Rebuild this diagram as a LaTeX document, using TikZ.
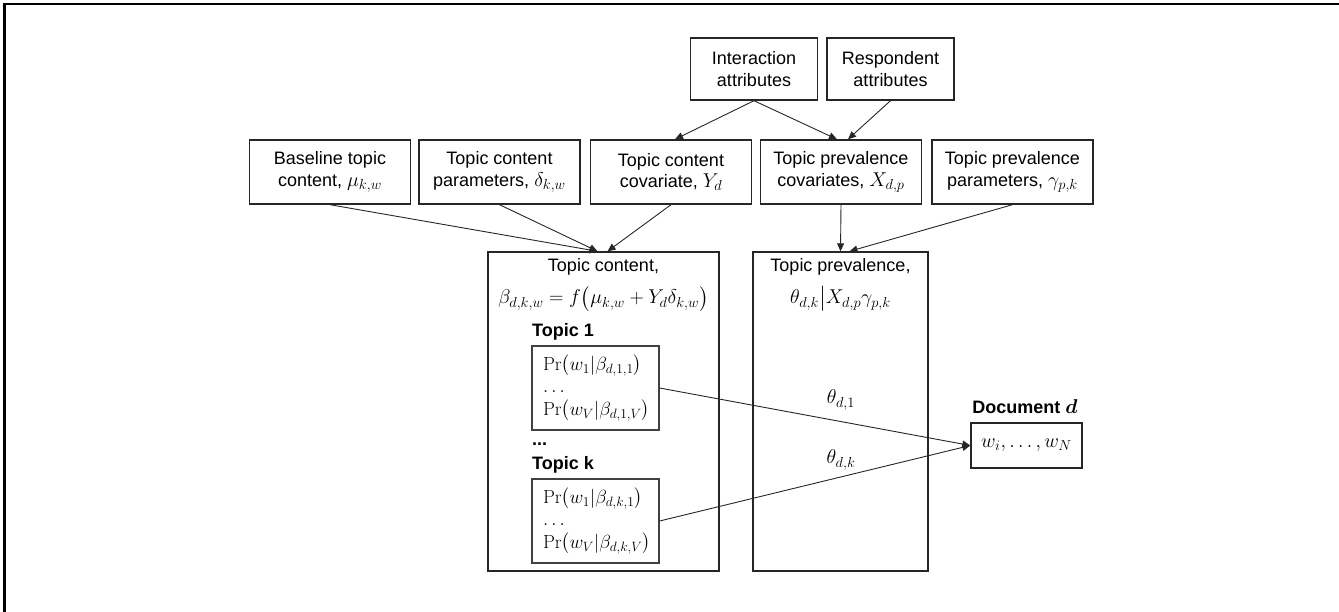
\RequirePackage{fix-cm}
\documentclass[tikz,border=0pt]{standalone}
\usepackage{amsmath}
\usepackage[no-math]{fontspec}
\setmainfont{Liberation Sans}
\DeclareMathSizes{18}{20}{14.5}{10.5}
\DeclareMathSizes{19}{19}{13.5}{10}
\usetikzlibrary{arrows.meta,calc}
\tikzset{
  box/.style={draw=black!85, line width=1.4pt, inner sep=0pt, align=center,
    font=\fontsize{18}{21.6}\selectfont},
  topbox/.style={box, minimum width=127pt, minimum height=62pt},
  rowbox/.style={box, minimum width=161pt, minimum height=64pt},
  bigbox/.style={box, minimum height=319pt},
  probbox/.style={draw=black!75, line width=1.2pt, minimum width=127pt, minimum height=84pt,
    inner xsep=11pt, inner ysep=0pt, text width=105pt, align=left,
    font=\fontsize{19}{22.5}\selectfont},
  lbl/.style={inner sep=0pt, font=\fontsize{18}{21.6}\selectfont},
  blbl/.style={inner sep=0pt, font=\fontsize{18}{21.6}\selectfont\bfseries},
  arr/.style={draw=black!85, line width=0.9pt, -{Triangle[length=8pt,width=7pt]}},
}
\begin{document}
\begin{tikzpicture}[x=1pt, y=-1pt]
\useasboundingbox (0,0) rectangle (1339,612);
% page frame (top and left edges)
\draw[line width=2.2pt] (4.5,612) -- (4.5,4) -- (1339,4);

% attribute boxes
\node[topbox] (ia) at (754,69) {Interaction\\attributes};
\node[topbox] (ra) at (890.5,69) {Respondent\\attributes};

% parameter / covariate row
\node[rowbox] (bl)  at (330,172)    {Baseline topic\\content, $\mu_{k,w}$};
\node[rowbox] (tcp) at (499.5,172)  {Topic content\\parameters, $\delta_{k,w}$};
\node[rowbox] (tcc) at (671,172)    {Topic content\\covariate, $Y_d$};
\node[rowbox] (tpc) at (841,172)    {Topic prevalence\\covariates, $X_{d,p}$};
\node[rowbox] (tpp) at (1012.5,172) {Topic prevalence\\parameters, $\gamma_{p,k}$};

% topic content and topic prevalence blocks
\node[bigbox, minimum width=231pt] (tc) at (603.5,411.5) {};
\node[bigbox, minimum width=175pt] (tp) at (840.5,411.5) {};

\node[lbl, anchor=base] (tct) at (603.5,272) {Topic content,};
\node[lbl, anchor=base] (tcf) at (603.5,304)
  {$\beta_{d,k,w} = f\bigl(\mu_{k,w} + Y_d\delta_{k,w}\bigr)$};
\node[lbl, anchor=base] (tpt) at (840.5,272) {Topic prevalence,};
\node[lbl, anchor=base] (tpf) at (840.5,304) {$\theta_{d,k}\big|X_{d,p}\gamma_{p,k}$};

% per-topic word distributions
\node[blbl, anchor=west] (l1) at (532,332) {Topic 1};
\node[probbox] (t1) at (595.5,388)
  {$\Pr\bigl(w_1|\beta_{d,1,1}\bigr)$\\$\ldots$\\$\Pr\bigl(w_V|\beta_{d,1,V}\bigr)$};
\node[blbl, anchor=west] (ld) at (532,444) {...};
\node[blbl, anchor=west] (lk) at (532,465) {Topic k};
\node[probbox] (tk) at (595.5,521)
  {$\Pr\bigl(w_1|\beta_{d,k,1}\bigr)$\\$\ldots$\\$\Pr\bigl(w_V|\beta_{d,k,V}\bigr)$};

% document
\node[blbl] (dl) at (1025,407) {Document $\boldsymbol{d}$};
\node[box, minimum width=111pt, minimum height=45pt] (doc) at (1026.5,445.5) {$w_i,\ldots, w_N$};

\node[lbl] (th1) at (841,400) {$\theta_{d,1}$};
\node[lbl] (thk) at (841,460) {$\theta_{d,k}$};

% connectors
\draw[arr] (ia.south) -- ($(tcc.north)+(4,0)$);
\draw[arr] (ia.south) -- ($(tpc.north)+(-4,0)$);
\draw[arr] (ra.south) -- ($(tpc.north)+(7,0)$);
\draw[arr] (bl.south) -- ($(tc.north)+(-6,0)$);
\draw[arr] (tcp.south) -- ($(tc.north)+(-6,0)$);
\draw[arr] (tcc.south) -- ($(tc.north)+(4,0)$);
\draw[arr] (tpc.south) -- (tp.north);
\draw[arr] (tpp.south) -- ($(tp.north)+(9,0)$);
\draw[arr] (t1.east) -- (doc.west);
\draw[arr] (tk.east) -- (doc.west);
\end{tikzpicture}
\end{document}
